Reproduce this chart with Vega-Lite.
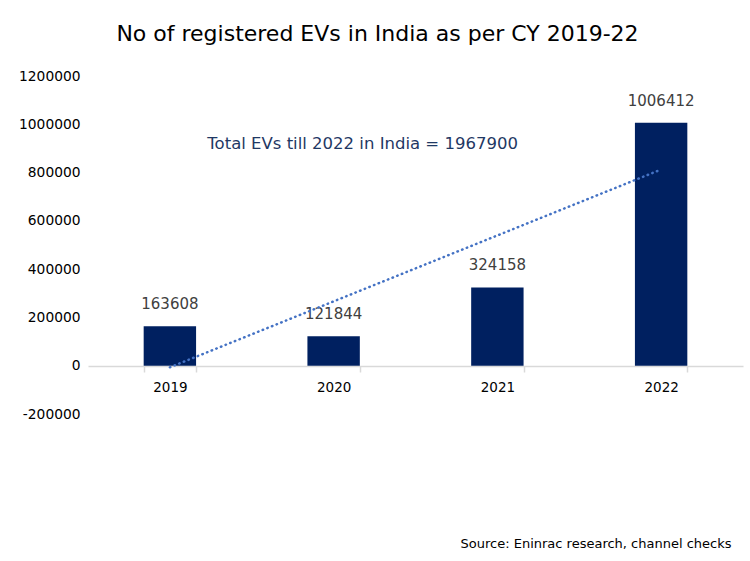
{
  "$schema": "https://vega.github.io/schema/vega-lite/v6.json",
  "autosize": "none",
  "width": 655,
  "height": 338,
  "padding": {"left": 88, "top": 76, "right": 7, "bottom": 147},
  "background": "white",
  "config": {
    "view": {"stroke": null},
    "font": "DejaVu Sans"
  },
  "title": {
    "text": "No of registered EVs in India as per CY 2019-22",
    "fontSize": 22,
    "fontWeight": "normal",
    "color": "#000000",
    "anchor": "middle",
    "dx": -38,
    "offset": 23
  },
  "data": {
    "values": [
      {"year": "2019", "evs": 163608, "trend": -6603},
      {"year": "2020", "evs": 121844, "trend": 266470},
      {"year": "2021", "evs": 324158, "trend": 539542},
      {"year": "2022", "evs": 1006412, "trend": 812614}
    ]
  },
  "encoding": {
    "x": {
      "field": "year",
      "type": "nominal",
      "scale": {"paddingInner": 0.68, "paddingOuter": 0.34},
      "axis": {
        "title": "Source: Eninrac research, channel checks",
        "titleFontSize": 13,
        "titleFontWeight": "normal",
        "titleColor": "#000000",
        "titleAnchor": "end",
        "titleAlign": "right",
        "titleX": 643,
        "titleY": 177,
        "titleBaseline": "middle",
        "labelAngle": 0,
        "labelFontSize": 13.5,
        "labelColor": "#000000",
        "labelPadding": 8,
        "offset": -48,
        "domainColor": "#d9d9d9",
        "domainWidth": 1.5,
        "tickColor": "#d9d9d9",
        "tickWidth": 1.5,
        "tickSize": 6,
        "tickBand": "extent",
        "grid": false
      }
    }
  },
  "layer": [
    {
      "mark": {"type": "bar", "color": "#002060"},
      "encoding": {
        "y": {
          "field": "evs",
          "type": "quantitative",
          "scale": {"domain": [-200000, 1200000], "nice": false},
          "axis": {
            "title": null,
            "values": [-200000, 0, 200000, 400000, 600000, 800000, 1000000, 1200000],
            "labelExpr": "'' + datum.value",
            "labelFontSize": 13.8,
            "labelColor": "#000000",
            "labelPadding": 8,
            "domain": false,
            "ticks": false,
            "grid": false
          }
        }
      }
    },
    {
      "mark": {"type": "text", "dy": -14, "fontSize": 15, "color": "#404040", "baseline": "bottom"},
      "encoding": {
        "y": {"field": "evs", "type": "quantitative"},
        "text": {"field": "evs", "type": "quantitative", "format": "d"}
      }
    },
    {
      "mark": {"type": "line", "color": "#4472c4", "strokeWidth": 2.5, "strokeDash": [0.5, 4.5], "strokeCap": "round"},
      "encoding": {
        "y": {"field": "trend", "type": "quantitative"}
      }
    },
    {
      "data": {"values": [{"year": "2020", "pos": 917000, "note": "Total EVs till 2022 in India = 1967900"}]},
      "mark": {"type": "text", "dx": 29, "fontSize": 16.5, "color": "#1f3864", "baseline": "middle"},
      "encoding": {
        "y": {"field": "pos", "type": "quantitative"},
        "text": {"field": "note"}
      }
    }
  ]
}
